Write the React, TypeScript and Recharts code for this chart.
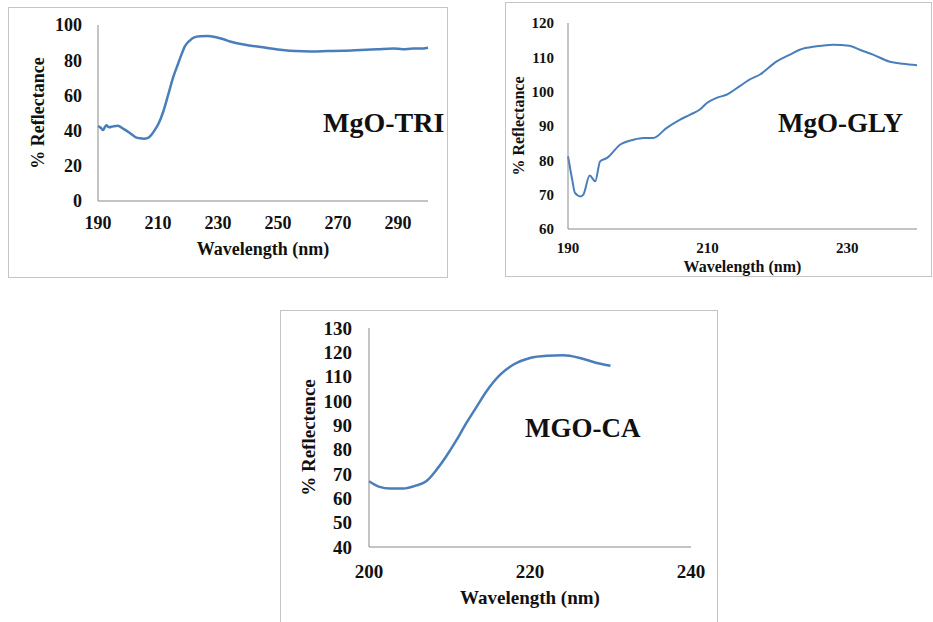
import { LineChart, Line, XAxis, YAxis, Customized } from 'recharts';

const SERIF = 'Liberation Serif, Times New Roman, Tinos, DejaVu Serif, serif';
const LINE_COLOR = '#4a7ebb';
const AXIS_COLOR = '#898989';
const TEXT_COLOR = '#111';

// MgO-TRI
const triWavelength = [190, 191, 191.7, 192.3, 192.8, 193.7, 195, 196.6, 198.5, 200.5, 202.6, 204, 205.3, 206.5, 207.5, 208.8, 210.2, 211.8, 213.5, 215, 216.7, 218, 218.9, 220.5, 222.1, 224, 226.5, 229, 231.9, 234, 236.3, 239.5, 243, 247, 251.5, 255.8, 261, 266.6, 272, 277.5, 283, 288.4, 291.6, 295, 297.5, 300];
const triReflectance = [42.6, 41.5, 40.3, 42, 43, 41.9, 42.4, 42.8, 41, 38.8, 36.2, 35.6, 35.4, 35.7, 37, 40, 44, 51, 61, 70, 78, 84, 87.7, 91, 93, 93.6, 93.75, 93.2, 91.9, 90.6, 89.6, 88.6, 87.8, 86.8, 85.8, 85.2, 85, 85.2, 85.4, 85.8, 86.2, 86.7, 86.2, 86.6, 86.6, 87.1];
const triXTicks = [190, 210, 230, 250, 270, 290];
const triYTicks = [0, 20, 40, 60, 80, 100];

// MgO-GLY
const glyWavelength = [190, 190.6, 191, 191.8, 192.2, 193.1, 193.9, 194.6, 195.6, 197.5, 199.4, 200.8, 202.2, 204.1, 206, 207.5, 208.9, 209.9, 211.3, 212.7, 214.6, 216, 217.5, 219.9, 221.8, 223.2, 225.6, 228, 230.3, 231.8, 233.7, 236, 238, 240];
const glyReflectance = [81.2, 74.4, 70.5, 69.5, 70, 75.6, 73.9, 79.7, 80.7, 84.6, 86, 86.5, 86.5, 89.4, 91.8, 93.3, 94.8, 96.7, 98.2, 99.1, 101.6, 103.5, 105, 108.8, 110.8, 112.2, 113.2, 113.7, 113.4, 112.2, 110.8, 108.8, 108.1, 107.7];
const glyXTicks = [190, 210, 230];
const glyYTicks = [60, 70, 80, 90, 100, 110, 120];

// MGO-CA
const caWavelength = [200, 201.3, 202.6, 204.2, 205.9, 207.1, 208.4, 209.6, 210.9, 212.1, 213.4, 214.6, 216.3, 217.9, 220, 222.1, 224.1, 226.2, 228.3, 230];
const caReflectance = [67, 64.7, 64, 64, 65.3, 67, 71.8, 77.3, 84.1, 91, 97.8, 104, 110.8, 114.9, 117.7, 118.6, 118.8, 117.7, 115.6, 114.5];
const caXTicks = [200, 220, 240];
const caYTicks = [40, 50, 60, 70, 80, 90, 100, 110, 120, 130];

interface PanelProps {
  left: number;
  top: number;
  width: number;
  height: number;
  wavelength: number[];
  reflectance: number[];
  xDomain: [number, number];
  xTicks: number[];
  yTicks: number[];
  margin: { top: number; right: number; bottom: number; left: number };
  yAxisWidth: number;
  xAxisHeight: number;
  tickFont: number;
  xTickMargin: number;
  yTickMargin: number;
  titleFont: number;
  xTitleOffset: number;
  yTitle: string;
  name: string;
  nameX: number;
  nameY: number;
  nameFont: number;
  strokeWidth: number;
}

function Panel(p: PanelProps) {
  const data = p.wavelength.map((w, i) => ({ w, r: p.reflectance[i] }));
  const tickStyle = { fontSize: p.tickFont, fontWeight: 'bold', fontFamily: SERIF, fill: TEXT_COLOR, style: { fontFamily: SERIF } };
  const titleStyle = { fontSize: p.titleFont, fontWeight: 'bold', fontFamily: SERIF, fill: TEXT_COLOR, textAnchor: 'middle' as const };
  return (
    <div
      style={{
        position: 'absolute',
        left: p.left,
        top: p.top,
        width: p.width,
        height: p.height,
        border: '1px solid #c4c4c4',
        boxSizing: 'border-box',
        fontFamily: SERIF,
      }}
    >
      <LineChart width={p.width - 2} height={p.height - 2} data={data} margin={p.margin} style={{ fontFamily: SERIF }}>
        <XAxis
          dataKey="w"
          type="number"
          domain={p.xDomain}
          ticks={p.xTicks}
          interval={0}
          tickLine={false}
          tickMargin={p.xTickMargin}
          axisLine={{ stroke: AXIS_COLOR }}
          tick={tickStyle}
          height={p.xAxisHeight}
          label={{ value: 'Wavelength (nm)', position: 'bottom', offset: p.xTitleOffset, style: titleStyle }}
        />
        <YAxis
          type="number"
          domain={[p.yTicks[0], p.yTicks[p.yTicks.length - 1]]}
          ticks={p.yTicks}
          interval={0}
          tickLine={false}
          tickMargin={p.yTickMargin}
          axisLine={{ stroke: AXIS_COLOR }}
          tick={tickStyle}
          width={p.yAxisWidth}
          label={{ value: p.yTitle, angle: -90, position: 'insideLeft', offset: 0, style: titleStyle }}
        />
        <Line
          type="monotone"
          dataKey="r"
          stroke={LINE_COLOR}
          strokeWidth={p.strokeWidth}
          dot={false}
          isAnimationActive={false}
        />
        <Customized
          component={() => (
            <text
              x={p.nameX}
              y={p.nameY}
              fontSize={p.nameFont}
              fontWeight="bold"
              style={{ fontFamily: SERIF }}
              fill={TEXT_COLOR}
            >
              {p.name}
            </text>
          )}
        />
      </LineChart>
    </div>
  );
}

export default function App() {
  return (
    <div
      style={{
        position: 'absolute',
        left: 0,
        top: 0,
        width: 933,
        height: 622,
        overflow: 'hidden',
        background: '#fff',
      }}
    >
      <Panel
        left={8}
        top={7}
        width={440}
        height={271}
        wavelength={triWavelength}
        reflectance={triReflectance}
        xDomain={[190, 300]}
        xTicks={triXTicks}
        yTicks={triYTicks}
        margin={{ top: 17, right: 19, left: 29, bottom: 46 }}
        yAxisWidth={60}
        xAxisHeight={30}
        tickFont={18}
        xTickMargin={9}
        yTickMargin={10}
        titleFont={18}
        xTitleOffset={11}
        yTitle="% Reflectance"
        name="MgO-TRI"
        nameX={314}
        nameY={124}
        nameFont={28}
        strokeWidth={2.5}
      />
      <Panel
        left={505}
        top={2}
        width={427}
        height={275}
        wavelength={glyWavelength}
        reflectance={glyReflectance}
        xDomain={[190, 240]}
        xTicks={glyXTicks}
        yTicks={glyYTicks}
        margin={{ top: 20, right: 14, left: 12, bottom: 25 }}
        yAxisWidth={50}
        xAxisHeight={22}
        tickFont={15}
        xTickMargin={7}
        yTickMargin={8}
        titleFont={16}
        xTitleOffset={10}
        yTitle="% Reflectance"
        name="MgO-GLY"
        nameX={272}
        nameY={129}
        nameFont={27}
        strokeWidth={2}
      />
      <Panel
        left={280}
        top={310}
        width={438}
        height={332}
        wavelength={caWavelength}
        reflectance={caReflectance}
        xDomain={[200, 240]}
        xTicks={caXTicks}
        yTicks={caYTicks}
        margin={{ top: 17, right: 26, left: 27, bottom: 64 }}
        yAxisWidth={61}
        xAxisHeight={30}
        tickFont={19}
        xTickMargin={12}
        yTickMargin={11}
        titleFont={19}
        xTitleOffset={14}
        yTitle="% Reflectence"
        name="MGO-CA"
        nameX={244}
        nameY={126}
        nameFont={27}
        strokeWidth={2.5}
      />
    </div>
  );
}
